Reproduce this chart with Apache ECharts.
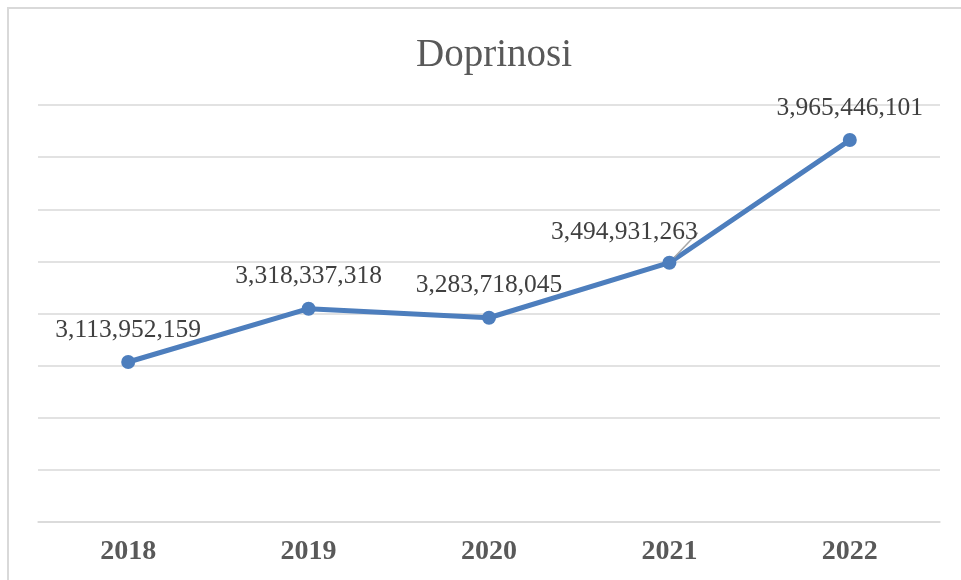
<!DOCTYPE html>
<html>
<head>
<meta charset="utf-8">
<script src="https://cdn.jsdelivr.net/npm/echarts@6/dist/echarts.min.js"></script>
<style>
  html, body { margin: 0; padding: 0; background: #fff; }
  #chart { width: 961px; height: 580px; }
</style>
</head>
<body>
<div id="chart"></div>
<script>
  var years = ['2018', '2019', '2020', '2021', '2022'];
  var values = [3113952159, 3318337318, 3283718045, 3494931263, 3965446101];

  var myChart = echarts.init(document.getElementById('chart'));

  // only the 2021 label is pushed aside, with a leader line
  var seriesData = values.map(function (v, i) {
    if (i === 3) {
      return { value: v, labelLine: { show: true, lineStyle: { color: '#a6a6a6', width: 1.5 } } };
    }
    return { value: v };
  });

  var option = {
    backgroundColor: '#fff',
    animation: false,
    title: {
      text: 'Doprinosi',
      left: 489,
      top: 31,
      textAlign: 'center',
      textStyle: {
        color: '#595959',
        fontFamily: 'Liberation Serif',
        fontWeight: 'normal',
        fontSize: 39
      }
    },
    graphic: [{
      type: 'rect',
      shape: { x: 8, y: 8, width: 1000, height: 600 },
      style: { fill: 'none', stroke: '#d9d9d9', lineWidth: 2 }
    }],
    grid: {
      left: 38,
      right: 21,
      top: 105,
      bottom: 58
    },
    xAxis: {
      type: 'category',
      data: years,
      axisLine: { lineStyle: { color: '#d9d9d9', width: 1.5 } },
      axisTick: { show: false },
      axisLabel: {
        color: '#595959',
        fontFamily: 'Liberation Serif',
        fontWeight: 'bold',
        fontSize: 28,
        margin: 16
      }
    },
    yAxis: {
      type: 'value',
      min: 2500000000,
      max: 4100000000,
      interval: 200000000,
      axisLine: { show: false },
      axisTick: { show: false },
      axisLabel: { show: false },
      splitLine: { lineStyle: { color: '#d9d9d9', width: 1.5 } }
    },
    series: [{
      type: 'line',
      data: seriesData,
      symbol: 'circle',
      symbolSize: 14,
      lineStyle: { color: '#4d7ebd', width: 5 },
      itemStyle: { color: '#4d7ebd' },
      label: {
        show: true,
        position: 'top',
        distance: 12,
        color: '#404040',
        fontFamily: 'Liberation Serif',
        fontSize: 25.5,
        formatter: function (p) {
          return p.value.toLocaleString('en-US');
        }
      },
      labelLayout: function (params) {
        if (params.dataIndex === 3) {
          return { dx: -45, dy: 2 };
        }
        return {};
      }
    }]
  };

  myChart.setOption(option);
</script>
</body>
</html>
